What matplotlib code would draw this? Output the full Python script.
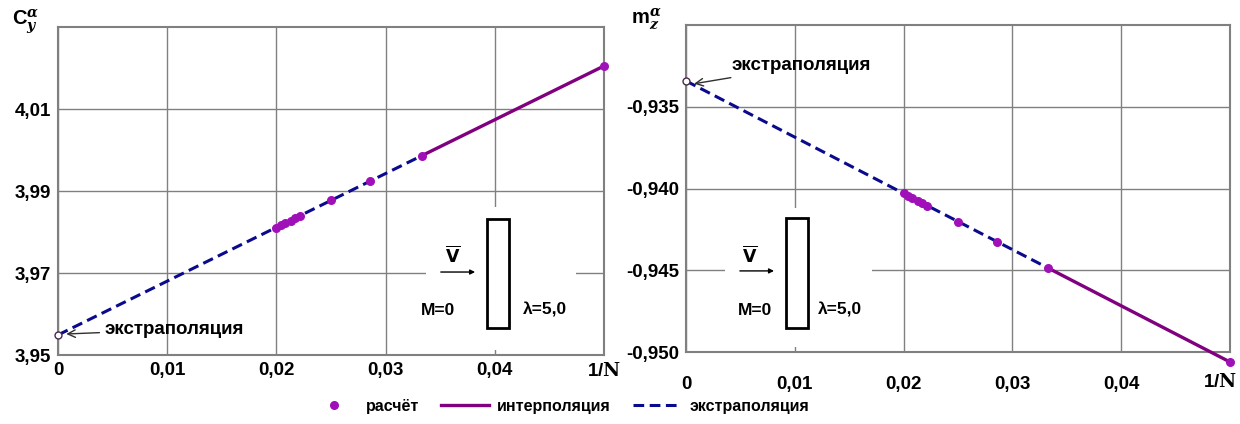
# -*- encoding: utf-8 -*-
"""
Derivatives C_y^alpha and m_z^alpha versus 1/N with linear extrapolation to 1/N = 0.
"""
import matplotlib
matplotlib.use('Agg')
import matplotlib.pyplot as plt
from matplotlib.patches import Rectangle
from matplotlib.lines import Line2D

plt.rcParams['font.family'] = ['Liberation Sans', 'DejaVu Sans']
plt.rcParams['font.weight'] = 'bold'
plt.rcParams['mathtext.fontset'] = 'dejavuserif'

# computed points, 1/N
inv_n = [0.05, 0.0333, 0.0286, 0.025, 0.0222, 0.0217, 0.0213, 0.0208, 0.0204, 0.02]
cy = [4.0205, 3.9986, 3.9924, 3.9877, 3.9840, 3.9834, 3.9828, 3.9822, 3.9817, 3.9811]
mz = [-0.95061, -0.94487, -0.94325, -0.94202, -0.94105, -0.94088, -0.94074,
      -0.94057, -0.94043, -0.94030]
# value extrapolated to 1/N = 0
cy_zero = 3.9549
mz_zero = -0.93342

x_ticks = [0, 0.01, 0.02, 0.03, 0.04, 0.05]
x_labels = ['0', '0,01', '0,02', '0,03', '0,04', '1/$\\mathrm{N}$']
cy_ticks = [3.95, 3.97, 3.99, 4.01]
cy_labels = ['3,95', '3,97', '3,99', '4,01']
mz_ticks = [-0.935, -0.940, -0.945, -0.950]
mz_labels = ['-0,935', '-0,940', '-0,945', '-0,950']

c_pts = '#a010b8'
c_int = '#800080'
c_ext = '#0a0a8c'
c_grid = '#808080'
fs = 13.5


def setup_axes(ax, ylim, yticks, ylabels, xpad):
    ax.set_xlim(0, 0.05)
    ax.set_ylim(*ylim)
    ax.set_xticks(x_ticks)
    ax.set_xticklabels(x_labels, fontsize=fs, fontweight='bold')
    ax.set_yticks(yticks)
    ax.set_yticklabels(ylabels, fontsize=fs, fontweight='bold')
    ax.tick_params(length=0, pad=5)
    ax.tick_params(axis='x', pad=xpad)
    ax.grid(True, color=c_grid, lw=1.0)
    ax.set_axisbelow(True)
    for s in ax.spines.values():
        s.set_color(c_grid)
        s.set_linewidth(1.5)


def draw_inset(ax, box, body, arrow, vpos, mpos, lpos):
    """White panel with the plate sketch, in axes fraction."""
    ax.add_patch(Rectangle((box[0], box[1]), box[2] - box[0], box[3] - box[1],
                           transform=ax.transAxes, facecolor='white',
                           edgecolor='none', zorder=1))
    ax.add_patch(Rectangle((body[0], body[1]), body[2] - body[0], body[3] - body[1],
                           transform=ax.transAxes, facecolor='white',
                           edgecolor='black', lw=2, zorder=3))
    ax.annotate('', xy=(arrow[1], arrow[2]), xytext=(arrow[0], arrow[2]),
                xycoords='axes fraction', textcoords='axes fraction',
                arrowprops=dict(arrowstyle='-|>', color='black', lw=1,
                                mutation_scale=7), zorder=3)
    ax.text(vpos[0], vpos[1], '$\\overline{\\mathsf{V}}$', transform=ax.transAxes,
            ha='center', va='center', fontsize=fs - 1, zorder=3)
    ax.text(mpos[0], mpos[1], 'M=0', transform=ax.transAxes,
            ha='center', va='center', fontsize=fs - 1, fontweight='bold', zorder=3)
    ax.text(lpos[0], lpos[1], 'λ=5,0', transform=ax.transAxes,
            ha='center', va='center', fontsize=fs - 1, fontweight='bold', zorder=3)


def plot_panel(ax, y, y0, ylim, yticks, ylabels, xpad):
    setup_axes(ax, ylim, yticks, ylabels, xpad)
    # extrapolation from the 1/N = 1/30 point down to 1/N = 0
    ax.plot([0, inv_n[1]], [y0, y[1]], color=c_ext, lw=2.2,
            dashes=(3.5, 1.8), zorder=4, clip_on=False)
    # interpolation between the two coarse grids
    ax.plot(inv_n[:2], y[:2], color=c_int, lw=2.4, zorder=4,
            solid_capstyle='butt', clip_on=False)
    ax.plot(inv_n, y, 'o', color=c_pts, ms=6.5, mec='none', zorder=5,
            clip_on=False)
    ax.plot(0, y0, 'o', mfc='white', mec='#4a2a4a', ms=5, mew=1,
            zorder=6, clip_on=False)


fig = plt.figure(figsize=(12.4, 4.24), dpi=100)
ax1 = fig.add_axes([0.0468, 0.1627, 0.4403, 0.7736])
ax2 = fig.add_axes([0.5532, 0.1698, 0.4387, 0.7712])

plot_panel(ax1, cy, cy_zero, (3.95, 4.03), cy_ticks, cy_labels, 5)
plot_panel(ax2, mz, mz_zero, (-0.950, -0.930), mz_ticks, mz_labels, 17)

# last x label of the right panel would run off the figure edge
ax2.set_xticklabels(x_labels[:-1] + [''])
ax2.annotate(x_labels[-1], xy=(1.0, 0.0), xycoords='axes fraction',
             xytext=(-7, -21.5), textcoords='offset points', ha='center',
             va='center', fontsize=fs, fontweight='bold')

draw_inset(ax1, (0.674, 0.015, 0.949, 0.451), (0.786, 0.082, 0.826, 0.415),
           (0.696, 0.769, 0.253), (0.722, 0.305), (0.696, 0.137), (0.892, 0.137))
draw_inset(ax2, (0.072, 0.015, 0.342, 0.44), (0.184, 0.073, 0.224, 0.41),
           (0.094, 0.167, 0.248), (0.118, 0.297), (0.127, 0.128), (0.283, 0.128))

ax1.annotate('экстраполяция', xy=(0.0005, cy_zero + 0.0002),
             xytext=(0.0043, 3.9562), fontsize=fs, fontweight='bold',
             va='center', ha='left',
             arrowprops=dict(arrowstyle='->', color='#303030', lw=1))
ax2.annotate('экстраполяция', xy=(0.0005, mz_zero - 0.0002),
             xytext=(0.0042, -0.9325), fontsize=fs, fontweight='bold',
             va='center', ha='left',
             arrowprops=dict(arrowstyle='->', color='#303030', lw=1))

fig.text(0.010, 0.95, 'C$_{y}^{\\alpha}$', fontsize=fs + 1, fontweight='bold',
         va='center', ha='left')
fig.text(0.509, 0.955, 'm$_{z}^{\\alpha}$', fontsize=fs + 1, fontweight='bold',
         va='center', ha='left')

handles = [Line2D([], [], ls='none', marker='o', color=c_pts, ms=6.5, mec='none'),
           Line2D([], [], color=c_int, lw=2.4),
           Line2D([], [], color=c_ext, lw=2.2, dashes=(3.5, 1.8))]
fig.legend(handles, ['расчёт', 'интерполяция', 'экстраполяция'], ncol=3,
           loc='lower center', bbox_to_anchor=(0.451, -0.01), frameon=False,
           fontsize=11.5, handlelength=3.0, columnspacing=1.4, handletextpad=0.5)

fig.savefig('out.png', dpi=100)
